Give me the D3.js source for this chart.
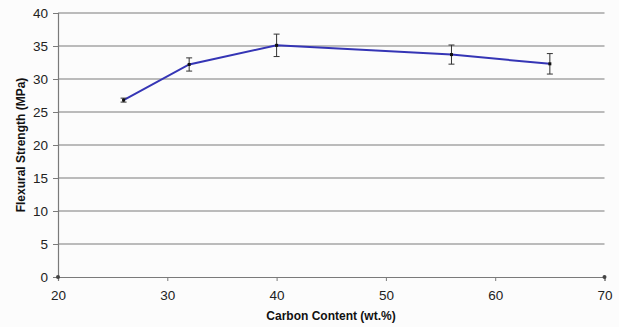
<!DOCTYPE html>
<html><head><meta charset="utf-8">
<script src="https://cdn.jsdelivr.net/npm/d3@7/dist/d3.min.js"></script>
<style>
html,body{margin:0;padding:0;background:#fcfcfc;}
svg{display:block;font-family:"Liberation Sans",Arial,sans-serif;}
</style></head>
<body><svg id="c" width="619" height="327"></svg>
<script>
const carbon = [26, 32, 40, 56, 65];
const strength = [26.8, 32.2, 35.1, 33.7, 32.3];
const errors = [0.3, 1.0, 1.7, 1.45, 1.55];
const xTicks = [20, 30, 40, 50, 60, 70];
const yTicks = [0, 5, 10, 15, 20, 25, 30, 35, 40];
const xTitle = "Carbon Content (wt.%)";
const yTitle = "Flexural Strength (MPa)";

const svg = d3.select("#c");
const x = d3.scaleLinear().domain([20, 70]).range([58, 604.5]);
const y = d3.scaleLinear().domain([0, 40]).range([277, 13]);

// gridlines
svg.append("g").selectAll("line").data(yTicks.filter(d => d > 0)).join("line")
  .attr("x1", x(20)).attr("x2", x(70))
  .attr("y1", d => y(d)).attr("y2", d => y(d))
  .attr("stroke", "#7a7a7a").attr("stroke-width", 1.2);

// y axis
const ya = svg.append("g").attr("transform", `translate(${x(20)},0)`)
  .call(d3.axisLeft(y).tickValues(yTicks).tickSize(5).tickPadding(5));
ya.select(".domain").attr("stroke", "#7a7a7a").attr("stroke-width", 1.2);
ya.selectAll(".tick line").attr("stroke", "#7a7a7a");
ya.selectAll("text").attr("font-size", 13.5).attr("fill", "#222");

// x axis
const xa = svg.append("g").attr("transform", `translate(0,${y(0)})`)
  .call(d3.axisBottom(x).tickValues(xTicks).tickSize(4).tickPadding(9));
xa.select(".domain").attr("stroke", "#7a7a7a").attr("stroke-width", 1.2);
xa.selectAll(".tick line").attr("stroke", "#7a7a7a");
xa.selectAll("text").attr("font-size", 13.5).attr("fill", "#222");

// end markers at axis corners
svg.append("g").selectAll("circle").data([20, 70]).join("circle")
  .attr("cx", d => x(d)).attr("cy", y(0)).attr("r", 2)
  .attr("fill", "#444");

// titles
svg.append("text").attr("x", 331).attr("y", 320).attr("text-anchor", "middle")
  .attr("font-size", 12).attr("font-weight", "bold").attr("fill", "#111").text(xTitle);
svg.append("text").attr("transform", "translate(25,145) rotate(-90)").attr("text-anchor", "middle")
  .attr("font-size", 12).attr("font-weight", "bold").attr("fill", "#111").text(yTitle);

const pts = carbon.map((c, i) => ({c, s: strength[i], e: errors[i]}));

// line
svg.append("path").datum(pts)
  .attr("d", d3.line().x(d => x(d.c)).y(d => y(d.s)))
  .attr("fill", "none").attr("stroke", "#3535b5").attr("stroke-width", 2);

// error bars
const eb = svg.append("g").attr("stroke", "#333").attr("stroke-width", 1);
pts.forEach(d => {
  eb.append("line").attr("x1", x(d.c)).attr("x2", x(d.c)).attr("y1", y(d.s + d.e)).attr("y2", y(d.s - d.e));
  eb.append("line").attr("x1", x(d.c) - 3).attr("x2", x(d.c) + 3).attr("y1", y(d.s + d.e)).attr("y2", y(d.s + d.e));
  eb.append("line").attr("x1", x(d.c) - 3).attr("x2", x(d.c) + 3).attr("y1", y(d.s - d.e)).attr("y2", y(d.s - d.e));
});

// markers
svg.append("g").selectAll("rect").data(pts).join("rect")
  .attr("x", d => x(d.c) - 1.5).attr("y", d => y(d.s) - 1.5)
  .attr("width", 3).attr("height", 3).attr("fill", "#111");
</script></body></html>
